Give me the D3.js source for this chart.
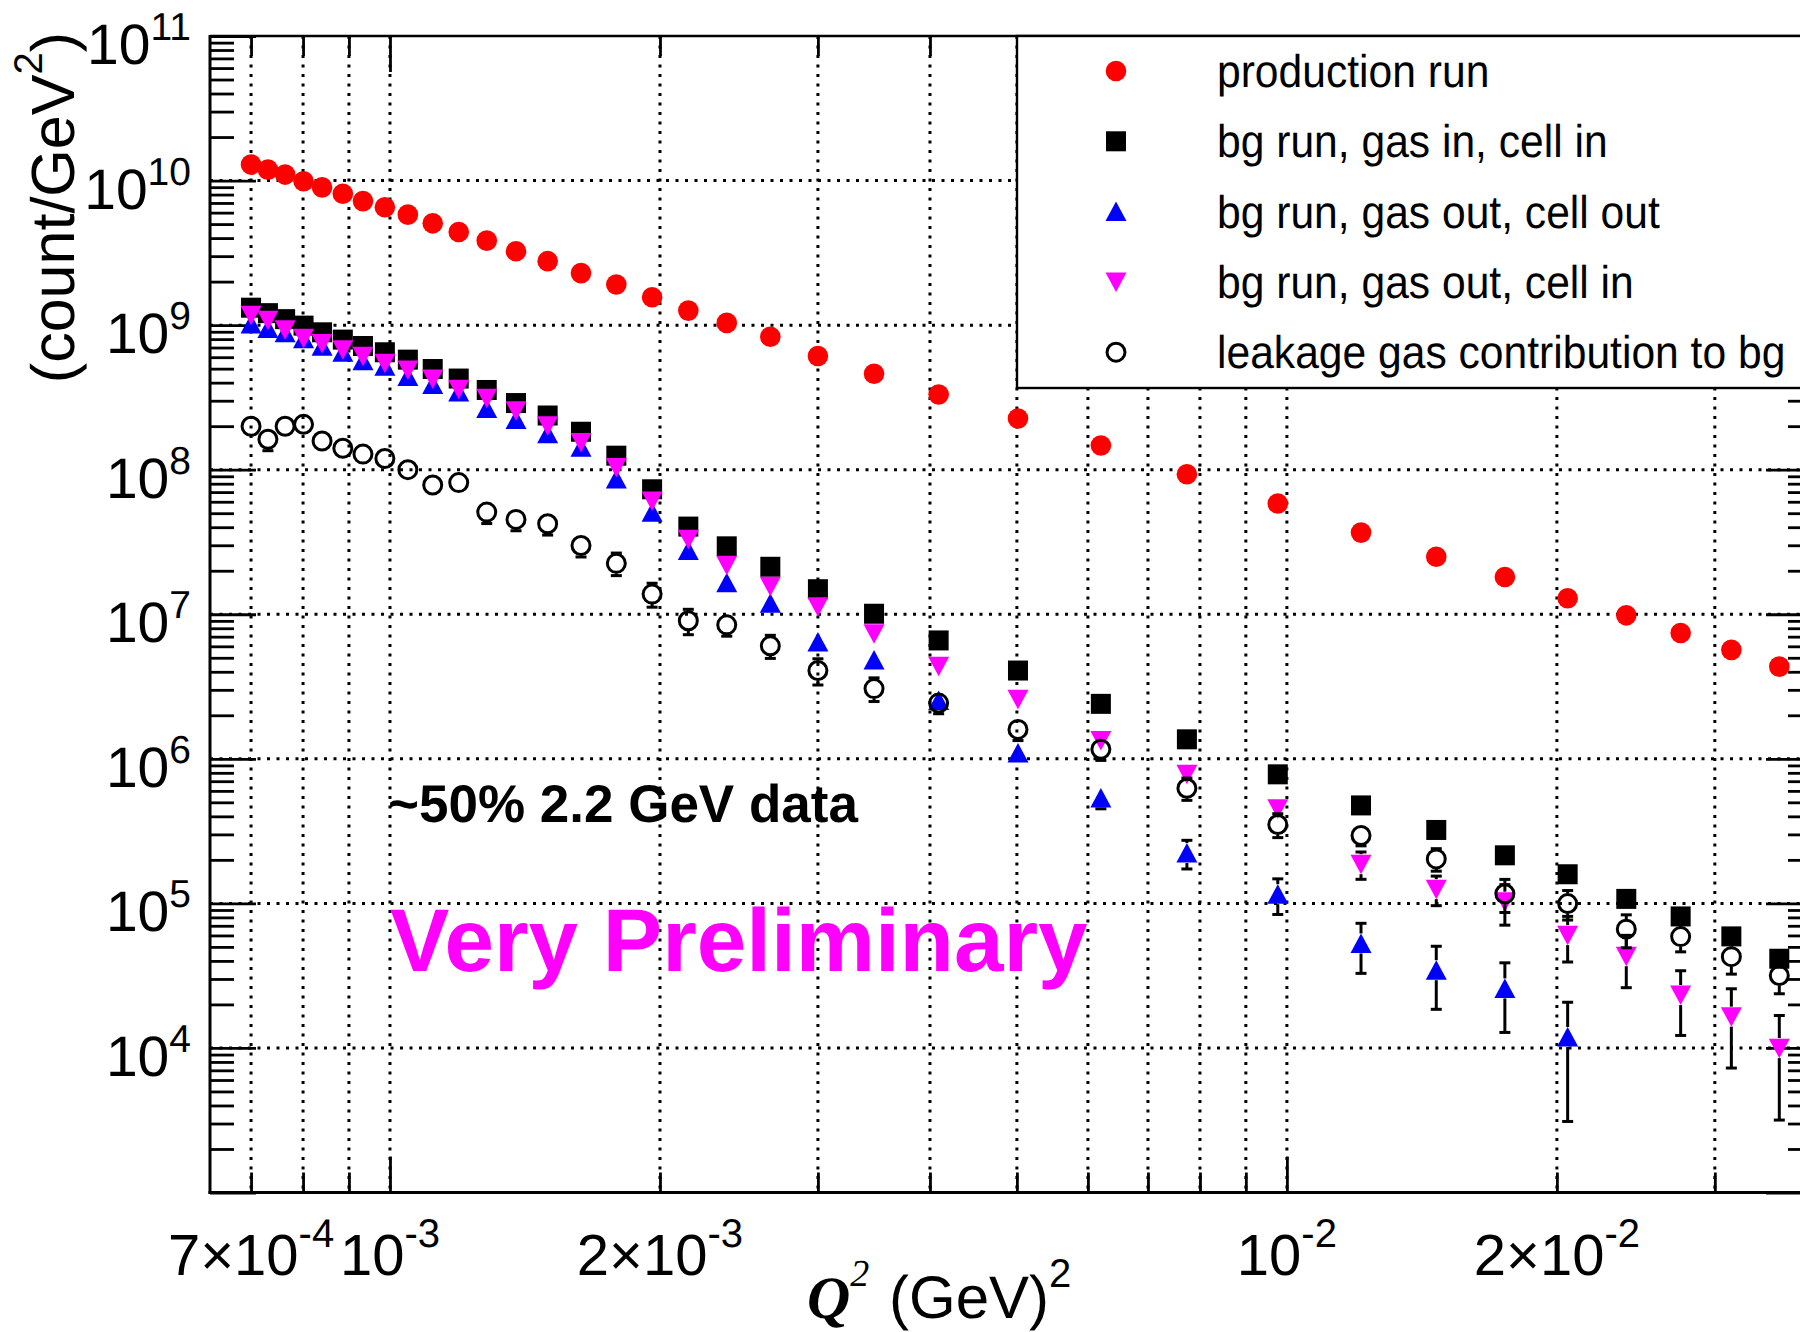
<!DOCTYPE html>
<html><head><meta charset="utf-8">
<script src="https://cdn.jsdelivr.net/npm/d3@7"></script>
<style>html,body{margin:0;padding:0;background:#fff;} svg{display:block;}</style>
</head><body>
<script>
// ---------------- data ----------------
const q2 = [7.00e-4, 7.31e-4, 7.64e-4, 8.01e-4, 8.40e-4, 8.86e-4, 9.33e-4, 9.87e-4, 1.047e-3, 1.116e-3,
  1.193e-3, 1.282e-3, 1.382e-3, 1.499e-3, 1.633e-3, 1.788e-3, 1.960e-3, 2.151e-3, 2.374e-3, 2.655e-3,
  3.000e-3, 3.465e-3, 4.090e-3, 5.014e-3, 6.203e-3, 7.736e-3, 9.769e-3, 1.2096e-2, 1.4674e-2, 1.750e-2,
  2.056e-2, 2.390e-2, 2.748e-2, 3.130e-2, 3.540e-2];

const production = [1.29e10, 1.19e10, 1.10e10, 9.9e9, 8.97e9, 8.11e9, 7.21e9, 6.53e9, 5.81e9, 5.06e9,
  4.41e9, 3.84e9, 3.24e9, 2.77e9, 2.29e9, 1.91e9, 1.56e9, 1.26e9, 1.036e9, 8.31e8,
  6.12e8, 4.61e8, 3.31e8, 2.26e8, 1.47e8, 9.31e7, 5.83e7, 3.67e7, 2.50e7, 1.81e7,
  1.29e7, 9.83e6, 7.41e6, 5.67e6, 4.34e6];
const productionErr = [0,0,0,0,0,0,0,0,0,0, 0,0,0,0,0,0,0,0,0,0, 0,0,0,0,0,0,0,0,0,0, 0,0,0,0,0];

const gasInCellIn = [1.32e9, 1.21e9, 1.10e9, 9.92e8, 8.92e8, 7.94e8, 7.17e8, 6.49e8, 5.77e8, 4.97e8,
  4.27e8, 3.56e8, 2.89e8, 2.37e8, 1.83e8, 1.25e8, 7.32e7, 4.04e7, 2.95e7, 2.13e7,
  1.49e7, 1.008e7, 6.59e6, 4.08e6, 2.40e6, 1.364e6, 7.81e5, 4.76e5, 3.22e5, 2.15e5,
  1.59e5, 1.074e5, 8.12e4, 5.91e4, 4.14e4];
const gasInCellInErr = [0,0,0,0,0,0,0,0,0,0, 0,0,0,0,0,0,0,0,0,0, 0,0,0,0,0,0,0,0,0,0, 0,0,0,0,0];

const gasOutCellOut = [1.018e9, 9.46e8, 8.87e8, 8.06e8, 7.14e8, 6.49e8, 5.68e8, 5.19e8, 4.42e8, 3.88e8,
  3.45e8, 2.65e8, 2.22e8, 1.77e8, 1.43e8, 8.62e7, 5.08e7, 2.76e7, 1.649e7, 1.192e7,
  6.44e6, 4.82e6, 2.53e6, 1.097e6, 5.36e5, 2.23e5, 1.158e5, 5.28e4, 3.45e4, 2.58e4,
  1.19e4, null, null, null, null];
const gasOutCellOutErr = [0,0,0,0,0,0,0,0,0,0, 0,0,0,0,0,0,0,0,0,0, 0,0,0,0,8.5e4,5.0e4,3.2e4,2.0e4,1.6e4,1.3e4, 8.8e3,0,0,0,0];

const gasOutCellIn = [1.169e9, 1.080e9, 9.28e8, 8.10e8, 7.45e8, 6.75e8, 6.08e8, 5.44e8, 4.89e8, 4.24e8,
  3.60e8, 3.12e8, 2.56e8, 2.01e8, 1.54e8, 1.034e8, 6.08e7, 3.30e7, 2.18e7, 1.559e7,
  1.127e7, 7.33e6, 4.37e6, 2.58e6, 1.338e6, 7.82e5, 4.52e5, 1.867e5, 1.254e5, 1.027e5,
  6.03e4, 4.31e4, 2.32e4, 1.646e4, 9.97e3];
const gasOutCellInErr = [0,0,0,0,0,0,0,0,0,0, 0,0,0,0,0,0,0,0,0,0, 0,0,0,0,0,0,0,4.0e4,2.9e4,3.2e4, 2.1e4,1.7e4,1.1e4,9.2e3,6.8e3];

const leakage = [1.996e8, 1.623e8, 1.996e8, 2.06e8, 1.579e8, 1.406e8, 1.282e8, 1.196e8, 1.0e8, 7.83e7,
  8.14e7, 5.09e7, 4.53e7, 4.23e7, 2.99e7, 2.25e7, 1.379e7, 9.02e6, 8.45e6, 6.05e6,
  4.08e6, 3.06e6, 2.43e6, 1.597e6, 1.165e6, 6.26e5, 3.51e5, 2.95e5, 2.03e5, 1.165e5,
  9.97e4, 6.63e4, 5.89e4, 4.28e4, 3.17e4];
const leakageErr = [1.5e7, 2.7e7, 1.5e7, 1.6e7, 1.6e7, 1.4e7, 1.3e7, 1.2e7, 1.0e7, 9e6,
  9e6, 8.5e6, 7.5e6, 7e6, 5e6, 4e6, 2.6e6, 1.8e6, 1.4e6, 1.1e6,
  8.4e5, 5.7e5, 3.8e5, 2.6e5, 1.9e5, 1.1e5, 6.6e4, 4.5e4, 3.6e4, 3.0e4,
  2.3e4, 1.7e4, 1.27e4, 1.04e4, 8e3];

const seriesNames = ["production run", "bg run, gas in, cell in", "bg run, gas out, cell out",
  "bg run, gas out, cell in", "leakage gas contribution to bg"];
const seriesColors = ["#ff0000", "#000000", "#0000ff", "#ff00ff", "#000000"];
const seriesShapes = ["circle", "square", "triUp", "triDown", "openCircle"];
const seriesValues = [production, gasInCellIn, gasOutCellOut, gasOutCellIn, leakage];
const seriesErrors = [productionErr, gasInCellInErr, gasOutCellOutErr, gasOutCellInErr, leakageErr];

const xLabelValues = [7e-4, 1e-3, 2e-3, 1e-2, 2e-2];
const xLabelMant = ["7\u00d7", "", "2\u00d7", "", "2\u00d7"];
const xLabelExp = ["-4", "-3", "-3", "-2", "-2"];
const yLabelExp = [4, 5, 6, 7, 8, 9, 10, 11];

// ---------------- layout ----------------
const W = 1800, H = 1332;
const L = 210, R = 1812, T = 36, B = 1192.5;
const SANS = "'Liberation Sans', Arial, Helvetica, sans-serif";
const SERIF = "'Liberation Serif', 'Times New Roman', serif";

const svg = d3.select("body").append("svg").attr("width", W).attr("height", H)
  .attr("font-family", SANS).attr("text-rendering", "geometricPrecision");

const x = d3.scaleLog().domain([6.30e-4, 3.85e-2]).range([L, R]);
const y = d3.scaleLog().domain([1e3, 1e11]).range([B, T]);

const isMajor = v => { const l = Math.log10(v); return Math.abs(l - Math.round(l)) < 1e-6; };
const xt = x.ticks(), yt = y.ticks();
const xMaj = xt.filter(isMajor), xMin = xt.filter(v => !isMajor(v));
const yMaj = yt.filter(isMajor), yMin = yt.filter(v => !isMajor(v));

// grid
const grid = svg.append("g").attr("stroke", "#000").attr("stroke-width", 3)
  .attr("stroke-dasharray", "3,6.5").attr("fill", "none");
xt.forEach(v => grid.append("line").attr("x1", x(v)).attr("x2", x(v)).attr("y1", T).attr("y2", B));
yMaj.filter(v => v > 1e3 && v < 1e11).forEach(v =>
  grid.append("line").attr("x1", L).attr("x2", R).attr("y1", y(v)).attr("y2", y(v)));

// axes ticks
function styleAxis(g) {
  g.select(".domain").remove();
  g.selectAll(".tick line").attr("stroke", "#000").attr("stroke-width", 2.8);
  g.selectAll(".tick text").remove();
}
svg.append("g").attr("transform", `translate(0,${B})`)
  .call(d3.axisBottom(x).tickValues(xMaj).tickSize(-36).tickFormat("")).call(styleAxis);
svg.append("g").attr("transform", `translate(0,${B})`)
  .call(d3.axisBottom(x).tickValues(xMin).tickSize(-20).tickFormat("")).call(styleAxis);
svg.append("g").attr("transform", `translate(0,${T})`)
  .call(d3.axisTop(x).tickValues(xMaj).tickSize(-36).tickFormat("")).call(styleAxis);
svg.append("g").attr("transform", `translate(0,${T})`)
  .call(d3.axisTop(x).tickValues(xMin).tickSize(-20).tickFormat("")).call(styleAxis);
svg.append("g").attr("transform", `translate(${L},0)`)
  .call(d3.axisLeft(y).tickValues(yMaj).tickSize(-46).tickFormat("")).call(styleAxis);
svg.append("g").attr("transform", `translate(${L},0)`)
  .call(d3.axisLeft(y).tickValues(yMin).tickSize(-24).tickFormat("")).call(styleAxis);
svg.append("g").attr("transform", `translate(${R},0)`)
  .call(d3.axisRight(y).tickValues(yMaj).tickSize(-46).tickFormat("")).call(styleAxis);
svg.append("g").attr("transform", `translate(${R},0)`)
  .call(d3.axisRight(y).tickValues(yMin).tickSize(-24).tickFormat("")).call(styleAxis);

// frame
svg.append("line").attr("x1", L).attr("x2", L).attr("y1", T - 1).attr("y2", B + 1.5).attr("stroke", "#000").attr("stroke-width", 3);
svg.append("line").attr("x1", L - 1.5).attr("x2", R).attr("y1", B).attr("y2", B).attr("stroke", "#000").attr("stroke-width", 3);
svg.append("line").attr("x1", L).attr("x2", R).attr("y1", T).attr("y2", T).attr("stroke", "#000").attr("stroke-width", 2.6);
svg.append("line").attr("x1", R).attr("x2", R).attr("y1", T).attr("y2", B).attr("stroke", "#000").attr("stroke-width", 3);

// y labels
yLabelExp.forEach(e => {
  const t = svg.append("text").attr("x", 191).attr("y", y(Math.pow(10, e)) + 28)
    .attr("text-anchor", "end").attr("font-size", 57).attr("fill", "#000");
  t.append("tspan").text("10");
  t.append("tspan").attr("font-size", 39).attr("dy", -24).text(String(e));
});
// x labels
xLabelValues.forEach((v, i) => {
  const t = svg.append("text").attr("x", x(v)).attr("y", 1275)
    .attr("text-anchor", "middle").attr("font-size", 58).attr("fill", "#000");
  t.append("tspan").text(xLabelMant[i] + "10");
  t.append("tspan").attr("font-size", 40).attr("dy", -28).text(xLabelExp[i]);
});

// axis titles
const yt1 = svg.append("text").attr("transform", "translate(74,32) rotate(-90)")
  .attr("text-anchor", "end").attr("font-size", 61).attr("fill", "#000");
yt1.append("tspan").text("(count/GeV");
yt1.append("tspan").attr("font-size", 40).attr("dy", -32).text("2");
yt1.append("tspan").attr("dy", 32).text(")");

const xq = svg.append("text").attr("x", 807).attr("y", 1318).attr("font-family", SERIF)
  .attr("font-style", "italic").attr("font-weight", "bold").attr("font-size", 60).attr("fill", "#000");
xq.append("tspan").text("Q");
xq.append("tspan").attr("font-size", 38).attr("dy", -32).attr("font-weight", "normal").text("2");
const xg = svg.append("text").attr("x", 889).attr("y", 1318).attr("font-size", 60).attr("fill", "#000");
xg.append("tspan").text("(GeV)");
xg.append("tspan").attr("font-size", 40).attr("dy", -31).text("2");

// annotations
svg.append("text").attr("x", 388).attr("y", 822).attr("font-size", 53).attr("font-weight", "bold")
  .attr("fill", "#000").text("~50% 2.2 GeV data");
svg.append("text").attr("x", 390).attr("y", 971).attr("font-size", 89).attr("font-weight", "bold")
  .attr("fill", "#ff00ff").text("Very Preliminary");

// markers
function drawMarker(g, shape, color, cx, cy) {
  if (shape === "circle") g.append("circle").attr("cx", cx).attr("cy", cy).attr("r", 10.3).attr("fill", color);
  else if (shape === "openCircle") g.append("circle").attr("cx", cx).attr("cy", cy).attr("r", 9)
    .attr("fill", "none").attr("stroke", color).attr("stroke-width", 3);
  else if (shape === "square") g.append("rect").attr("x", cx - 10).attr("y", cy - 10).attr("width", 20).attr("height", 20).attr("fill", color);
  else if (shape === "triUp") g.append("path").attr("d", `M${cx},${cy - 10}L${cx + 10.5},${cy + 9.5}L${cx - 10.5},${cy + 9.5}Z`).attr("fill", color);
  else if (shape === "triDown") g.append("path").attr("d", `M${cx},${cy + 10}L${cx + 10.5},${cy - 9.5}L${cx - 10.5},${cy - 9.5}Z`).attr("fill", color);
}

const plot = svg.append("g");
const gap = 10, cap = 5.5;
seriesValues.forEach((vals, s) => {
  const g = plot.append("g");
  const errs = seriesErrors[s];
  vals.forEach((v, i) => {
    if (v == null) return;
    const cx = x(q2[i]), cy = y(v), e = errs[i];
    if (e > 0) {
      const yTop = y(v + e), yBot = v - e > 0 ? y(v - e) : B;
      const eg = g.append("g").attr("stroke", "#000").attr("stroke-width", 3);
      if (cy - yTop > gap) {
        eg.append("line").attr("x1", cx).attr("x2", cx).attr("y1", cy - gap).attr("y2", yTop);
        eg.append("line").attr("x1", cx - cap).attr("x2", cx + cap).attr("y1", yTop).attr("y2", yTop);
      }
      if (yBot - cy > gap) {
        eg.append("line").attr("x1", cx).attr("x2", cx).attr("y1", cy + gap).attr("y2", yBot);
        eg.append("line").attr("x1", cx - cap).attr("x2", cx + cap).attr("y1", yBot).attr("y2", yBot);
      }
    }
  });
  vals.forEach((v, i) => {
    if (v == null) return;
    drawMarker(g, seriesShapes[s], seriesColors[s], x(q2[i]), y(v));
  });
});

// legend
const lg = svg.append("g");
lg.append("rect").attr("x", 1017).attr("y", T).attr("width", 900).attr("height", 352)
  .attr("fill", "#fff").attr("stroke", "#000").attr("stroke-width", 2.4);
seriesNames.forEach((name, i) => {
  const cy = 71 + i * 70.3;
  drawMarker(lg, seriesShapes[i], seriesColors[i], 1116, cy);
  lg.append("text").attr("transform", `translate(1217,${cy + 16}) scale(0.926,1)`)
    .attr("font-size", 46).attr("fill", "#000").text(name);
});
</script>
</body></html>
